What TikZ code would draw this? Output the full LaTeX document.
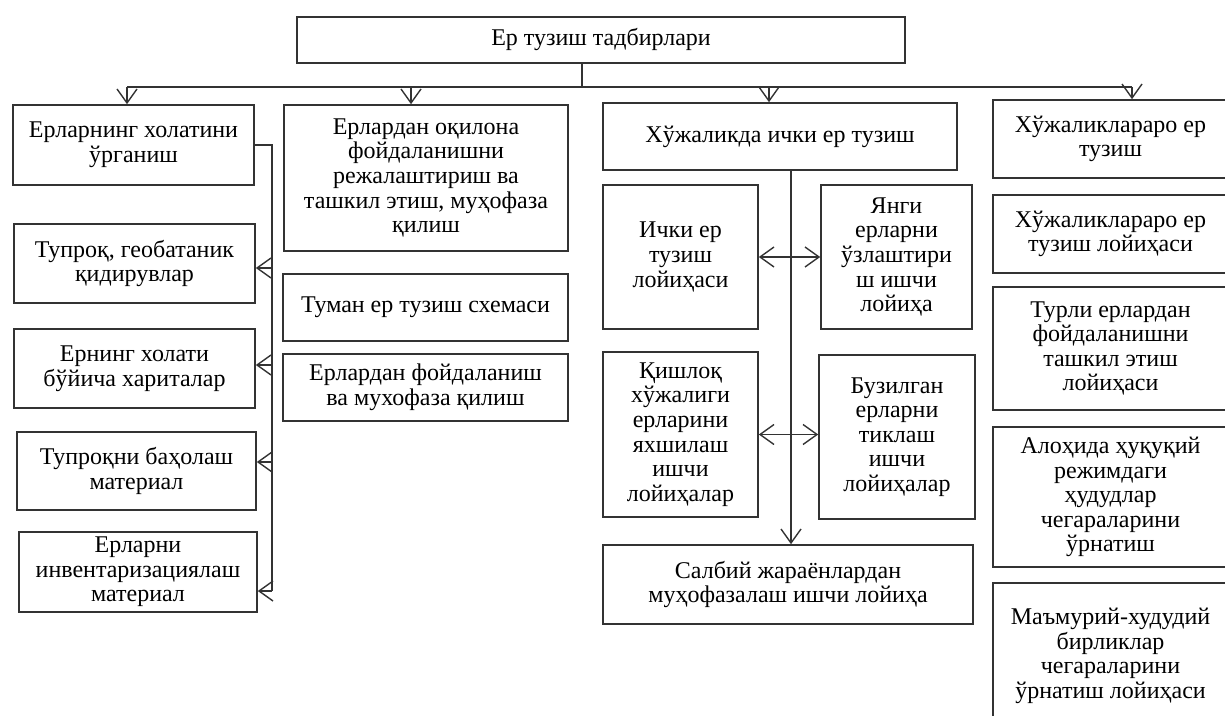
\documentclass[tikz,border=0pt]{standalone}
\usepackage{fontspec}
\setmainfont{Liberation Serif}
\usetikzlibrary{arrows.meta}

\begin{document}
\begin{tikzpicture}[x=0.5pt,y=-0.5pt,
    box/.style={draw=black!80,line width=0.8pt,align=center,inner sep=1pt,
      font=\fontsize{12}{12.3}\selectfont},
    sz/.style 2 args={minimum width=#1*0.5pt,minimum height=#2*0.5pt},
    link/.style={draw=black!80,line width=0.7pt},
    arr/.style={-{Straight Barb[length=7pt,width=10pt]}},
    arrs/.style={{Straight Barb[length=7pt,width=10pt]}-{Straight Barb[length=7pt,width=10pt]}}]
      \useasboundingbox (0,0) rectangle (1225,716);
      \clip (0,0) rectangle (1225,716);
      \node[box,sz={608}{46}] (top) at (601,40) {Ер тузиш тадбирлари};
      % first row
      \node[box,sz={241}{80}] (holat) at (133.5,145) {Ерларнинг холатини\\ўрганиш};
      \node[box,sz={284}{146}] (oqil) at (426,178) {Ерлардан оқилона\\фойдаланишни\\режалаштириш ва\\ташкил этиш, муҳофаза\\қилиш};
      \node[box,sz={354}{67}] (ichki) at (780,136.5) {Хўжаликда ички ер тузиш};
      \node[box,sz={235}{78}] (aro) at (1110.5,139) {Хўжаликлараро ер\\тузиш};
      % left column
      \node[box,sz={241}{79}] (tupr) at (134.5,263.5) {Тупроқ, геобатаник\\қидирувлар};
      \node[box,sz={241}{79}] (xarita) at (134.5,368.5) {Ернинг холати\\бўйича хариталар};
      \node[box,sz={239}{78}] (baho) at (136.5,471) {Тупроқни баҳолаш\\материал};
      \node[box,sz={238}{80}] (inv) at (138,572) {Ерларни\\инвентаризациялаш\\материал};
      % second column
      \node[box,sz={285}{67}] (sxema) at (425.5,307.5) {Туман ер тузиш схемаси};
      \node[box,sz={285}{67}] (foyd) at (425.5,387.5) {Ерлардан фойдаланиш\\ва мухофаза қилиш};
      % third column
      \node[box,sz={155}{144}] (ichloy) at (680.5,257) {Ички ер\\тузиш\\лойиҳаси};
      \node[box,sz={151}{144}] (yangi) at (896.5,257) {Янги\\ерларни\\ўзлаштири\\ш ишчи\\лойиҳа};
      \node[box,sz={155}{165}] (qishloq) at (680.5,434.5) {Қишлоқ\\хўжалиги\\ерларини\\яхшилаш\\ишчи\\лойиҳалар};
      \node[box,sz={156}{164}] (buzil) at (897,437) {Бузилган\\ерларни\\тиклаш\\ишчи\\лойиҳалар};
      \node[box,sz={370}{79}] (salbiy) at (788,584.5) {Салбий жараёнлардан\\муҳофазалаш ишчи лойиҳа};
      % right column
      \node[box,sz={235}{78}] (aroloy) at (1110.5,234) {Хўжаликлараро ер\\тузиш лойиҳаси};
      \node[box,sz={235}{123}] (turli) at (1110.5,348.5) {Турли ерлардан\\фойдаланишни\\ташкил этиш\\лойиҳаси};
      \node[box,sz={235}{140}] (alohida) at (1110.5,497) {Алоҳида ҳуқуқий\\режимдаги\\ҳудудлар\\чегараларини\\ўрнатиш};
      \node[box,sz={235}{146}] (mamur) at (1110.5,656) {Маъмурий-худудий\\бирликлар\\чегараларини\\ўрнатиш лойиҳаси};
      % connectors
      \coordinate (bus) at (582,87);
      \coordinate (busL) at (127,87);
      \coordinate (bus2) at (411,87);
      \coordinate (bus3) at (769,87);
      \coordinate (busR) at (1132,87);
      \coordinate (spine) at (272,591);
      \begin{scope}[link]
        \draw (top.south -| bus) -- (bus);
        \draw (busL) -- (busR);
        \draw[arr] (busL) -- (busL |- holat.north);
        \draw[arr] (bus2) -- (bus2 |- oqil.north);
        \draw[arr] (bus3) -- (bus3 |- ichki.north);
        \draw[arr] (busR) -- (busR |- aro.north);
        \draw (holat.east) -| (spine);
        \draw[arr] ([yshift=-2.25pt]tupr.east -| spine) -- ([yshift=-2.25pt]tupr.east);
        \draw[arr] ([yshift=1.75pt]xarita.east -| spine) -- ([yshift=1.75pt]xarita.east);
        \draw[arr] ([yshift=4.5pt]baho.east -| spine) -- ([yshift=4.5pt]baho.east);
        \draw[arr] (spine) -- (spine -| inv.east);
        \draw[arr] (ichki.south) ++(11,0) coordinate (mid) -- (mid |- salbiy.north);
        \draw[arrs] (ichloy.east) -- (ichloy.east -| yangi.west);
        \draw[arrs] (qishloq.east) -- (qishloq.east -| buzil.west);
      \end{scope}
    \end{tikzpicture}
\end{document}
